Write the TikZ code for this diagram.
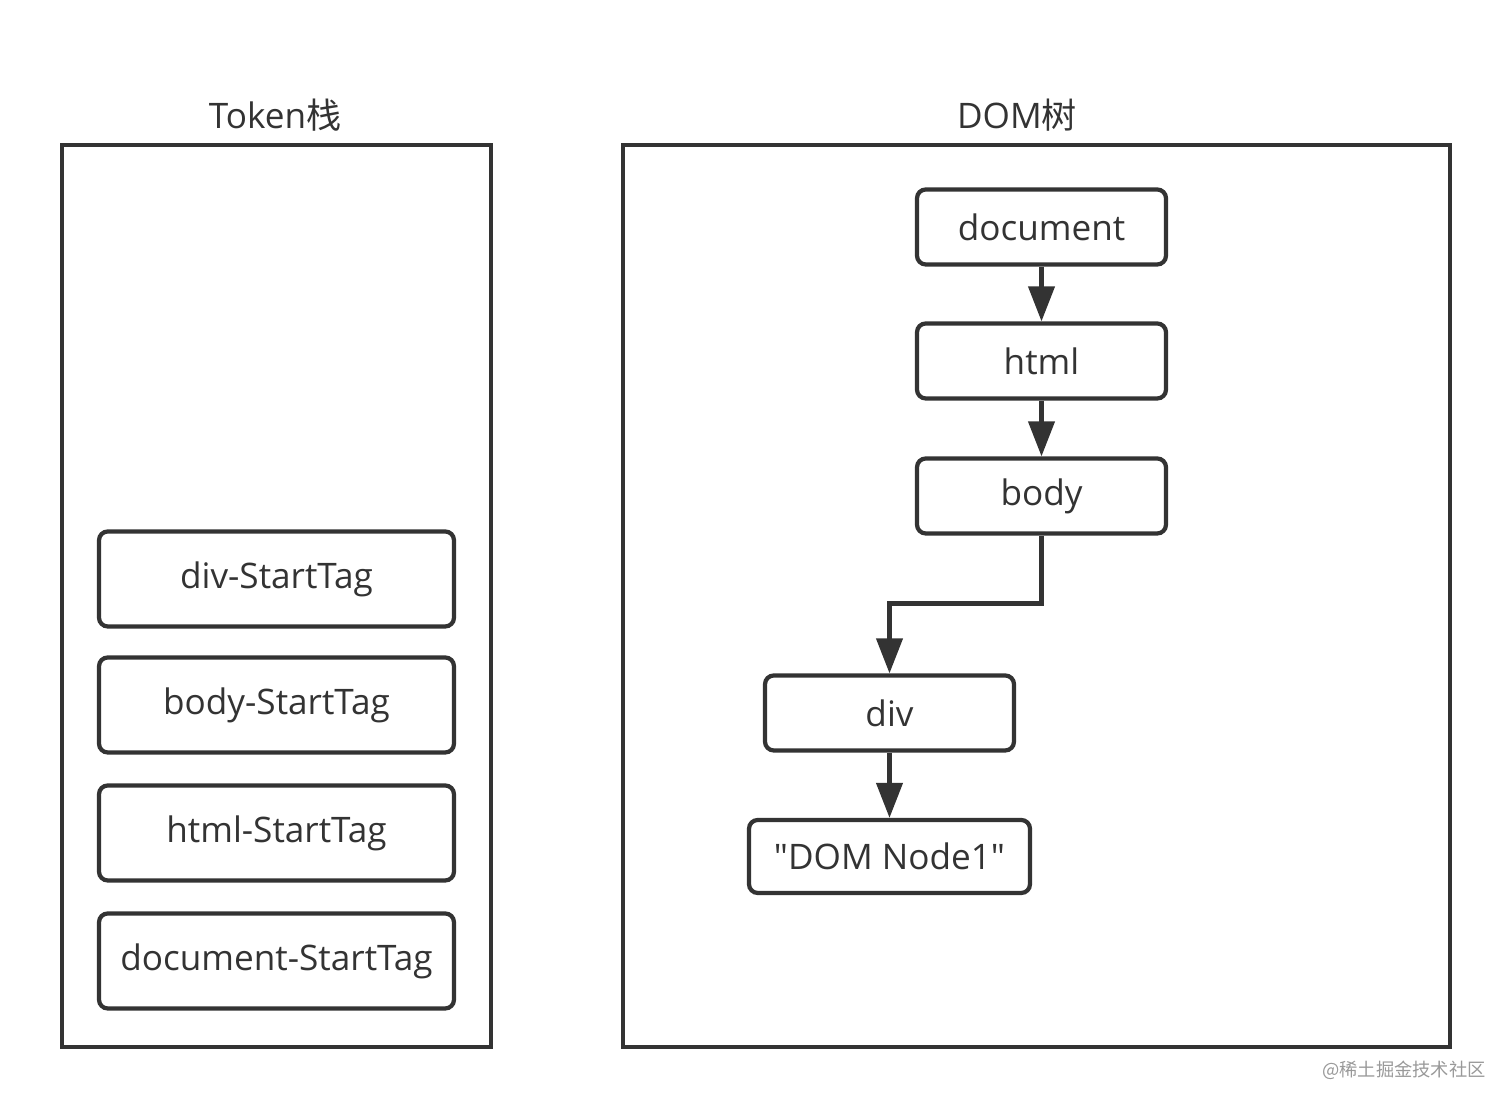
\documentclass[tikz,border=0pt]{standalone}
\usepackage{fontspec}
\setmainfont{Open Sans}[Ligatures=TeXOff]
\newfontfamily\cjk{Noto Sans CJK SC}
\usetikzlibrary{arrows.meta}
\definecolor{ink}{HTML}{333333}
\tikzset{
  frame/.style={draw=ink, line width=1.2pt},
  tokenbox/.style={draw=ink, line width=1.2pt, rounded corners=2.5pt, minimum width=3.55cm, minimum height=0.95cm, font=\fontsize{10}{12}\selectfont, text=ink},
  dombox/.style={draw=ink, line width=1.2pt, rounded corners=2.5pt, minimum width=2.49cm, minimum height=0.75cm, font=\fontsize{10}{12}\selectfont, text=ink},
  arr/.style={draw=ink, line width=1.2pt, -{Triangle[width=0.26cm, length=0.35cm]}},
  title/.style={font=\fontsize{10}{12}\selectfont, text=ink}
}
\begin{document}
\begin{tikzpicture}
\useasboundingbox (0,0) rectangle (15.12,11.09);

% Frames and titles
\draw[frame] (0.62,9.64) rectangle (4.91,0.62);
\draw[frame] (6.23,9.64) rectangle (14.50,0.62);
\node[title] (tokentitle) at (2.75,9.94) {Token{\cjk 栈}};
\node[title] (domtitle) at (10.17,9.94) {DOM{\cjk 树}};

% Token stack
\foreach \y/\name/\txt in {5.30/tdiv/div-StartTag, 4.04/tbody/body-StartTag, 2.76/thtml/html-StartTag, 1.48/tdoc/document-StartTag} {
  \node[tokenbox] (\name) at (2.765,\y) {\txt};
}

% DOM tree
\node[dombox] (document) at (10.415,8.82) {document};
\node[dombox] (html) at (10.415,7.48) {html};
\node[dombox] (body) at (10.415,6.13) {body};
\node[dombox] (div) at (8.895,3.96) {div};
\node[dombox, minimum width=2.81cm, minimum height=0.73cm] (text) at (8.895,2.525) {"DOM Node1"};

% Connectors
\draw[arr] (document) -- (html);
\draw[arr] (html) -- (body);
\draw[arr] (body.south) -- ++(0,-0.68) -| (div.north);
\draw[arr] (div) -- (text);

% Watermark
\node[font=\cjk\fontsize{5.2}{6}\selectfont, text=black!40] (mark) at (14.04,0.39) {@稀土掘金技术社区};
\end{tikzpicture}
\end{document}
